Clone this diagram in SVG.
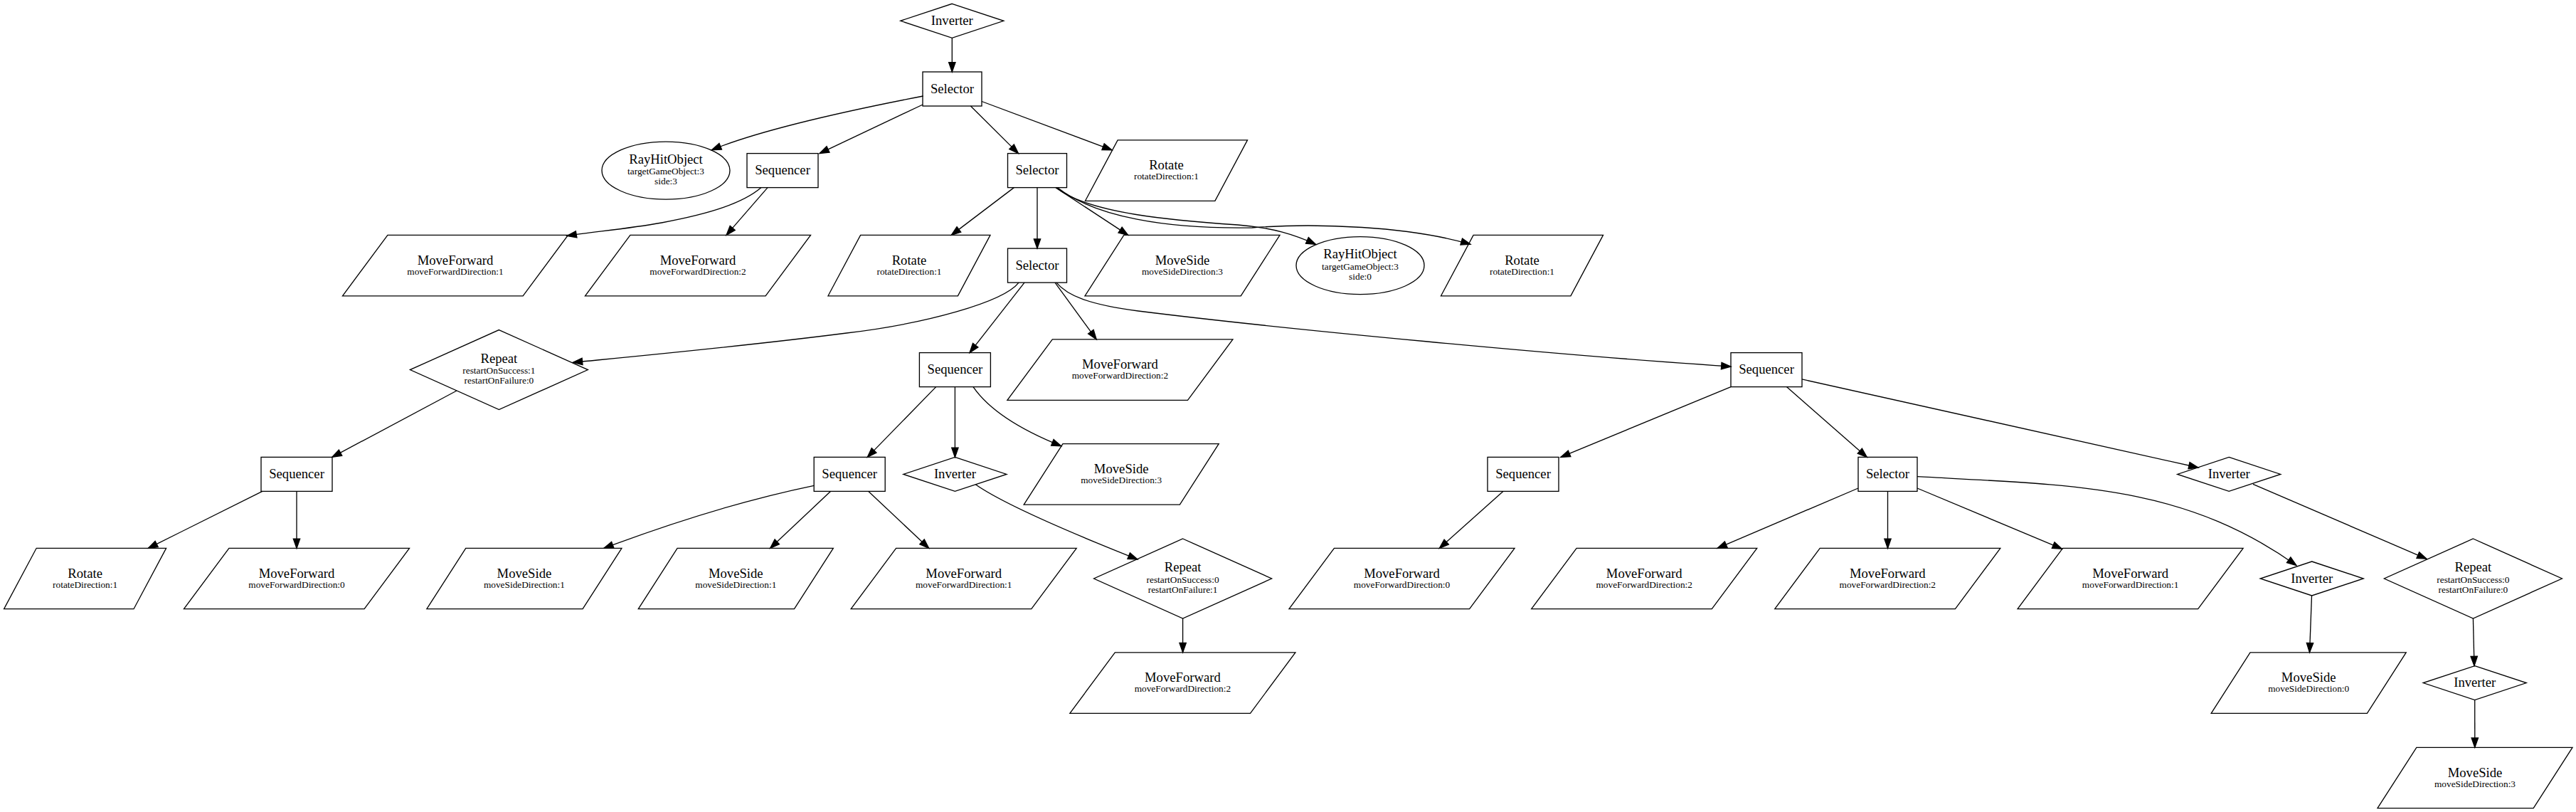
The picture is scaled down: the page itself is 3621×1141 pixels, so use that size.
<svg xmlns="http://www.w3.org/2000/svg" xmlns:xlink="http://www.w3.org/1999/xlink" width="3621" height="1141" viewBox="0 0 3621 1141">
<style>
.t{font-family:"Liberation Serif","Times New Roman",serif;font-size:18.67px;text-anchor:middle;fill:#000}
.s{font-size:13.33px}
.e{fill:none;stroke:#000;stroke-width:1.33;marker-end:url(#arr)}
.n{fill:none;stroke:#000;stroke-width:1.33}
</style>
<defs>
<marker id="arr" markerUnits="userSpaceOnUse" markerWidth="14" markerHeight="10" refX="13.3" refY="4.67" orient="auto" overflow="visible">
<path d="M0,0 L13.3,4.67 L0,9.33 z" fill="#000" stroke="#000" stroke-width="1.33"/>
</marker>
<polygon id="pMF" points="-95.1,-42.7 158.5,-42.7 95.1,42.7 -158.5,42.7" fill="none" stroke="#000" stroke-width="1.33"/>
<polygon id="pRot" points="-68.4,-42.7 114,-42.7 68.4,42.7 -114,42.7" fill="none" stroke="#000" stroke-width="1.33"/>
<polygon id="pMS" points="-82.2,-42.7 137,-42.7 82.2,42.7 -137,42.7" fill="none" stroke="#000" stroke-width="1.33"/>
<polygon id="dInv" points="0,-24 72.5,0 0,24 -72.5,0" fill="none" stroke="#000" stroke-width="1.33"/>
<polygon id="dRep" points="0,-56 125,0 0,56 -125,0" fill="none" stroke="#000" stroke-width="1.33"/>
<rect id="bSel" x="-41.5" y="-24" width="83" height="48" fill="none" stroke="#000" stroke-width="1.33"/>
<rect id="bSeq" x="-50" y="-24" width="100" height="48" fill="none" stroke="#000" stroke-width="1.33"/>
<ellipse id="eRay" cx="0" cy="0" rx="90" ry="40.5" fill="none" stroke="#000" stroke-width="1.33"/>
</defs>
<rect x="0" y="0" width="3621" height="1141" fill="#fff"/>

<g id="edges">
<path class="e" d="M1338.3,53.3 L1338.3,101"/>
<path class="e" d="M1297.6,135 C1220,150 1080,178 1000.4,210.7"/>
<path class="e" d="M1297,147 L1152,215.6"/>
<path class="e" d="M1364.4,149 L1431.5,215.6"/>
<path class="e" d="M1380,142.5 L1563,210.8"/>
<path class="e" d="M1070,263.6 C1045,285 1000,300 930,313 C880,322 830,326 797,331.5"/>
<path class="e" d="M1079,263.6 L1021,330.4"/>
<path class="e" d="M1425.3,263.6 L1337.3,330.4"/>
<path class="e" d="M1458,263.6 L1458,349.1"/>
<path class="e" d="M1484,263.6 L1585.7,330.4"/>
<path class="e" d="M1485,264 C1530,300 1650,310 1740,316 C1790,320 1820,330 1849.5,343.3"/>
<path class="e" d="M1487,264 C1540,305 1640,322 1760,320 C1850,313 1980,318 2067,343.3"/>
<path class="e" d="M1432,397.1 C1410,425 1300,455 1190,468 C1050,486 900,500 805.3,509.3"/>
<path class="e" d="M1440,397.1 L1363,495.6"/>
<path class="e" d="M1483,397.1 L1541.2,476.9"/>
<path class="e" d="M1485,397.1 C1500,415 1530,428 1600,437 C1800,462 2200,500 2433,515"/>
<path class="e" d="M642,549 L466.8,642.4"/>
<path class="e" d="M368.8,690.4 L208.3,770.4"/>
<path class="e" d="M417,690.4 L417,770.4"/>
<path class="e" d="M1315.7,543.6 L1219.3,642.4"/>
<path class="e" d="M1342.4,543.6 L1342.4,642.4"/>
<path class="e" d="M1368,543.6 Q1400,590 1491.7,626.7"/>
<path class="e" d="M1144.2,682.3 Q1010,710 848.8,770.4"/>
<path class="e" d="M1167.4,690.4 L1082.6,770.4"/>
<path class="e" d="M1220.8,690.4 L1305.7,770.4"/>
<path class="e" d="M1371.3,680.8 Q1420,715 1599,786"/>
<path class="e" d="M1662.6,869 L1662.6,916.8"/>
<path class="e" d="M2433,543.6 L2193.8,642.4"/>
<path class="e" d="M2112.8,690.4 L2023.3,770.4"/>
<path class="e" d="M2511.4,543.6 L2624.3,642.4"/>
<path class="e" d="M2533,532.9 L3090,657"/>
<path class="e" d="M2612,686 L2414,770.4"/>
<path class="e" d="M2653.5,690.4 L2653.5,770.4"/>
<path class="e" d="M2695,686 L2898.4,771.2"/>
<path class="e" d="M2695,669.7 C2915,681.8 3068,680.9 3228,794.5"/>
<path class="e" d="M3167,680.4 L3411,785.3"/>
<path class="e" d="M3249.5,837 L3246.5,916.8"/>
<path class="e" d="M3476.4,869 L3478,935.6"/>
<path class="e" d="M3478.7,983.6 L3478.8,1050.3"/>
</g>

<g id="n0" transform="translate(1338.3,29.3)"><use xlink:href="#dInv"/><text class="t" y="5.6">Inverter</text></g>
<g id="n1" transform="translate(1338.5,125)"><use xlink:href="#bSel"/><text class="t" y="5.6">Selector</text></g>
<g id="n2" transform="translate(936,239.6)"><use xlink:href="#eRay"/><text class="t" y="-10">RayHitObject</text><text class="t s" y="5.5">targetGameObject:3</text><text class="t s" y="19.5">side:3</text></g>
<g id="n3" transform="translate(1100,239.6)"><use xlink:href="#bSeq"/><text class="t" y="5.6">Sequencer</text></g>
<g id="n4" transform="translate(1458,239.6)"><use xlink:href="#bSel"/><text class="t" y="5.6">Selector</text></g>
<g id="n5" transform="translate(1639.5,239.6)"><use xlink:href="#pRot"/><text class="t" y="-1.5">Rotate</text><text class="t s" y="12.8">rotateDirection:1</text></g>
<g id="n6" transform="translate(640,373.1)"><use xlink:href="#pMF"/><text class="t" y="-1.5">MoveForward</text><text class="t s" y="12.8">moveForwardDirection:1</text></g>
<g id="n7" transform="translate(981,373.1)"><use xlink:href="#pMF"/><text class="t" y="-1.5">MoveForward</text><text class="t s" y="12.8">moveForwardDirection:2</text></g>
<g id="n8" transform="translate(1278,373.1)"><use xlink:href="#pRot"/><text class="t" y="-1.5">Rotate</text><text class="t s" y="12.8">rotateDirection:1</text></g>
<g id="n9" transform="translate(1458,373.1)"><use xlink:href="#bSel"/><text class="t" y="5.6">Selector</text></g>
<g id="n10" transform="translate(1662,373.1)"><use xlink:href="#pMS"/><text class="t" y="-1.5">MoveSide</text><text class="t s" y="12.8">moveSideDirection:3</text></g>
<g id="n11" transform="translate(1912,373.1)"><use xlink:href="#eRay"/><text class="t" y="-10">RayHitObject</text><text class="t s" y="5.5">targetGameObject:3</text><text class="t s" y="19.5">side:0</text></g>
<g id="n12" transform="translate(2139.5,373.1)"><use xlink:href="#pRot"/><text class="t" y="-1.5">Rotate</text><text class="t s" y="12.8">rotateDirection:1</text></g>
<g id="n13" transform="translate(701.4,519.6)"><use xlink:href="#dRep"/><text class="t" y="-10">Repeat</text><text class="t s" y="5.5">restartOnSuccess:1</text><text class="t s" y="19.5">restartOnFailure:0</text></g>
<g id="n14" transform="translate(1342.4,519.6)"><use xlink:href="#bSeq"/><text class="t" y="5.6">Sequencer</text></g>
<g id="n15" transform="translate(1574.4,519.6)"><use xlink:href="#pMF"/><text class="t" y="-1.5">MoveForward</text><text class="t s" y="12.8">moveForwardDirection:2</text></g>
<g id="n16" transform="translate(2483,519.6)"><use xlink:href="#bSeq"/><text class="t" y="5.6">Sequencer</text></g>
<g id="n17" transform="translate(417,666.4)"><use xlink:href="#bSeq"/><text class="t" y="5.6">Sequencer</text></g>
<g id="n18" transform="translate(1194.2,666.4)"><use xlink:href="#bSeq"/><text class="t" y="5.6">Sequencer</text></g>
<g id="n19" transform="translate(1342.4,666.4)"><use xlink:href="#dInv"/><text class="t" y="5.6">Inverter</text></g>
<g id="n20" transform="translate(1576.2,666.4)"><use xlink:href="#pMS"/><text class="t" y="-1.5">MoveSide</text><text class="t s" y="12.8">moveSideDirection:3</text></g>
<g id="n21" transform="translate(2141,666.4)"><use xlink:href="#bSeq"/><text class="t" y="5.6">Sequencer</text></g>
<g id="n22" transform="translate(2653.5,666.4)"><use xlink:href="#bSel"/><text class="t" y="5.6">Selector</text></g>
<g id="n23" transform="translate(3133.2,666.4)"><use xlink:href="#dInv"/><text class="t" y="5.6">Inverter</text></g>
<g id="n24" transform="translate(119.6,813)"><use xlink:href="#pRot"/><text class="t" y="-1.5">Rotate</text><text class="t s" y="12.8">rotateDirection:1</text></g>
<g id="n25" transform="translate(417,813)"><use xlink:href="#pMF"/><text class="t" y="-1.5">MoveForward</text><text class="t s" y="12.8">moveForwardDirection:0</text></g>
<g id="n26" transform="translate(736.9,813)"><use xlink:href="#pMS"/><text class="t" y="-1.5">MoveSide</text><text class="t s" y="12.8">moveSideDirection:1</text></g>
<g id="n27" transform="translate(1034.3,813)"><use xlink:href="#pMS"/><text class="t" y="-1.5">MoveSide</text><text class="t s" y="12.8">moveSideDirection:1</text></g>
<g id="n28" transform="translate(1354.7,813)"><use xlink:href="#pMF"/><text class="t" y="-1.5">MoveForward</text><text class="t s" y="12.8">moveForwardDirection:1</text></g>
<g id="n29" transform="translate(1662.6,813)"><use xlink:href="#dRep"/><text class="t" y="-10">Repeat</text><text class="t s" y="5.5">restartOnSuccess:0</text><text class="t s" y="19.5">restartOnFailure:1</text></g>
<g id="n30" transform="translate(1970.5,813)"><use xlink:href="#pMF"/><text class="t" y="-1.5">MoveForward</text><text class="t s" y="12.8">moveForwardDirection:0</text></g>
<g id="n31" transform="translate(2311.2,813)"><use xlink:href="#pMF"/><text class="t" y="-1.5">MoveForward</text><text class="t s" y="12.8">moveForwardDirection:2</text></g>
<g id="n32" transform="translate(2653.3,813)"><use xlink:href="#pMF"/><text class="t" y="-1.5">MoveForward</text><text class="t s" y="12.8">moveForwardDirection:2</text></g>
<g id="n33" transform="translate(2994.6,813)"><use xlink:href="#pMF"/><text class="t" y="-1.5">MoveForward</text><text class="t s" y="12.8">moveForwardDirection:1</text></g>
<g id="n34" transform="translate(3249.7,813)"><use xlink:href="#dInv"/><text class="t" y="5.6">Inverter</text></g>
<g id="n35" transform="translate(3476.4,813)"><use xlink:href="#dRep"/><text class="t" y="-10">Repeat</text><text class="t s" y="5.5">restartOnSuccess:0</text><text class="t s" y="19.5">restartOnFailure:0</text></g>
<g id="n36" transform="translate(1662.4,959.6)"><use xlink:href="#pMF"/><text class="t" y="-1.5">MoveForward</text><text class="t s" y="12.8">moveForwardDirection:2</text></g>
<g id="n37" transform="translate(3245.2,959.6)"><use xlink:href="#pMS"/><text class="t" y="-1.5">MoveSide</text><text class="t s" y="12.8">moveSideDirection:0</text></g>
<g id="n38" transform="translate(3478.7,959.6)"><use xlink:href="#dInv"/><text class="t" y="5.6">Inverter</text></g>
<g id="n39" transform="translate(3479,1093)"><use xlink:href="#pMS"/><text class="t" y="-1.5">MoveSide</text><text class="t s" y="12.8">moveSideDirection:3</text></g>
</svg>
